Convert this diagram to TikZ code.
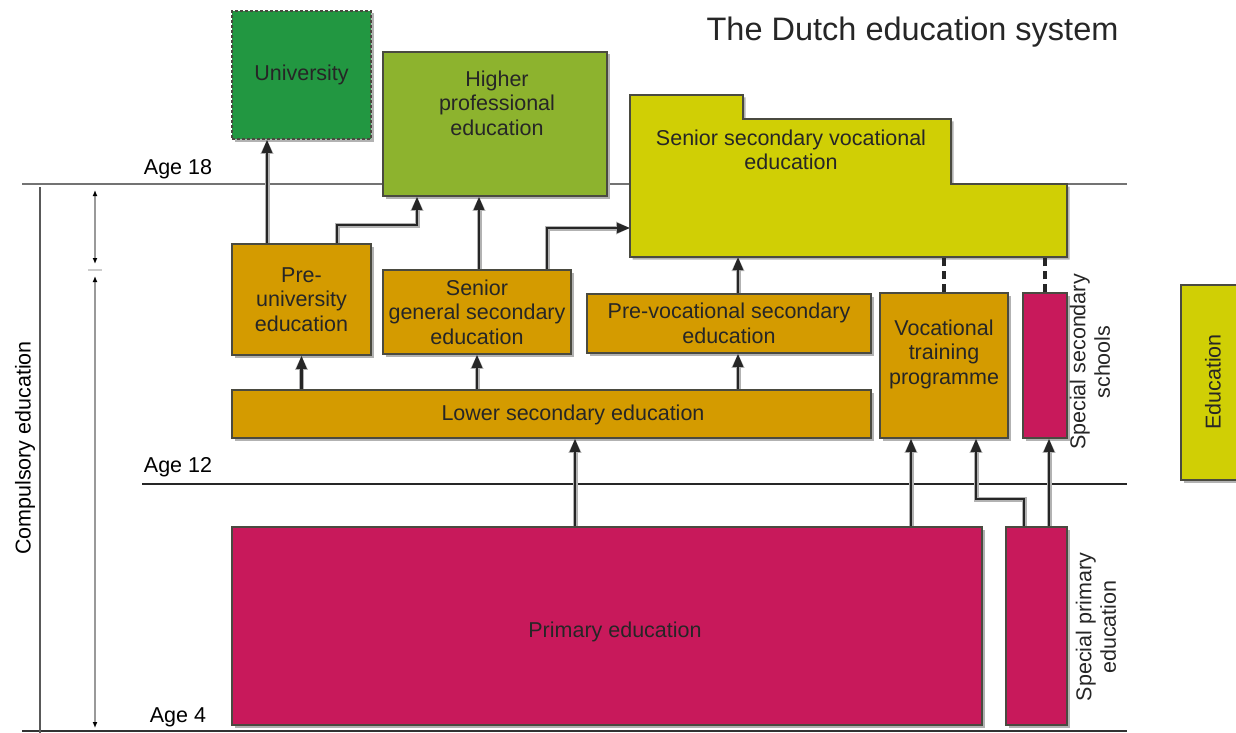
\documentclass[tikz,border=0pt]{standalone}
\usepackage{fontspec}
\setmainfont{Liberation Sans}
\usetikzlibrary{calc, arrows.meta, shadows}
\definecolor{unigreen}{HTML}{229741}
\definecolor{hbogreen}{HTML}{8DB32E}
\definecolor{mboyellow}{HTML}{D0CF05}
\definecolor{secorange}{HTML}{D49B00}
\definecolor{primmagenta}{HTML}{C8195B}
\definecolor{boxline}{HTML}{4A4A40}

\tikzset{
    edubox/.style={draw=boxline, line width=1.5, align=center, inner sep=0pt, text=black!85,
        drop shadow={shadow xshift=2.5pt, shadow yshift=-2.5pt, fill=black!30, opacity=1}},
    flow/.style={draw=black!85, line width=2.2, -{Triangle[length=13pt,width=10pt]},
        preaction={draw=black!30, line width=5, -{Triangle[length=14pt,width=12pt]}}},
    stage/.style={draw=black!85, line width=3.2, dash pattern=on 8pt off 5pt},
}

\begin{document}
\begin{tikzpicture}[x=1pt, y=-1pt, font=\fontsize{21.5}{24.5}\selectfont]
        \useasboundingbox (0,0) rectangle (1236,733);

        \draw[line width=2, draw=black!55] (22,184) -- (1127,184);
        \draw[line width=2, draw=black!85] (142,484) -- (1127,484);
        \draw[line width=2, draw=black!80] (22,731) -- (1127,731);
        \draw[line width=2, draw=black!65] (40,187) -- (40,733);

        \draw[line width=2, draw=black!40, {Latex[length=6pt,width=5pt,color=black]}-{Latex[length=6pt,width=5pt,color=black]}] (95,190) -- (95,264);
        \draw[line width=2, draw=black!40, {Latex[length=6pt,width=5pt,color=black]}-{Latex[length=6pt,width=5pt,color=black]}] (95,276) -- (95,728);
        \draw[line width=2, draw=black!20] (88,270) -- (102,270);

        \node[rotate=90] (compulsory) at (25,448) {Compulsory education};
        \node (age18) at (178,169) {Age 18};
        \node (age12) at (178,467) {Age 12};
        \node (age4) at (178,717) {Age 4};

        \node[anchor=east, font=\fontsize{32.5}{36}\selectfont, text=black!85] (title) at (1122,32) {The Dutch education system};

        \node[edubox, fill=unigreen, densely dashed, minimum width=139, minimum height=128] (uni) at (301.5,75) {University};
        \node[edubox, fill=hbogreen, minimum width=224, minimum height=144] (hbo) at (495,124) {};
        \node[align=center, text=black!85] (hbotext) at (497,103) {Higher\\professional\\education};

        \draw[edubox, fill=mboyellow] (630,95) -- (743,95) -- (743,119) -- (951,119) -- (951,184)
            -- (1067,184) -- (1067,257) -- (630,257) -- cycle;
        \node[align=center, text=black!85] (mbo) at (791,150) {Senior secondary vocational\\education};
        \coordinate (mboleft) at (630,228);
        \coordinate (mbobottom) at (630,257);

        \node[edubox, fill=secorange, minimum width=139, minimum height=111] (preuni) at (301.5,299.5) {Pre-\\university\\education};
        \node[edubox, fill=secorange, minimum width=188, minimum height=84] (sengen) at (477,312) {Senior\\general secondary\\education};
        \node[edubox, fill=secorange, minimum width=284, minimum height=59] (prevoc) at (729,323.5) {Pre-vocational secondary\\education};
        \node[edubox, fill=secorange, minimum width=639, minimum height=48] (lowsec) at (551.5,414) {};
        \node[text=black!85] (lowsectext) at (573,415) {Lower secondary education};
        \node[edubox, fill=secorange, minimum width=128, minimum height=145] (voctr) at (944,365.5) {};
        \node[align=center, text=black!85] (voctrtext) at (944,354) {Vocational\\training\\programme};
        \node[edubox, fill=primmagenta, minimum width=44, minimum height=145] (specsec) at (1045,365.5) {};
        \node[rotate=90, align=center, text=black!85] (specseclabel) at (1090,362) {Special secondary\\schools};

        \node[edubox, fill=primmagenta, minimum width=750, minimum height=198] (primary) at (607,626) {};
        \node[text=black!85] (primarytext) at (615,632) {Primary education};
        \node[edubox, fill=primmagenta, minimum width=61, minimum height=198] (specprim) at (1036.5,626) {};
        \node[rotate=90, align=center, text=black!85] (specprimlabel) at (1096,627) {Special primary\\education};

        \node[edubox, fill=mboyellow, minimum width=70, minimum height=195] (legend) at (1216,382.5) {};
        \node[rotate=90, text=black!85] (legendtext) at (1213,382) {Education};

        \draw[flow] ([xshift=-34.5]preuni.north) -- ([xshift=-34.5]uni.south);
        \draw[flow] ([xshift=35.5]preuni.north) -- ++(0,-18) -| ([xshift=-78]hbo.south);
        \draw[flow] ([xshift=2]sengen.north) -- ([xshift=2]sengen.north |- hbo.south);
        \draw[flow] ([xshift=70]sengen.north) |- (mboleft);
        \draw[flow] ([xshift=9]prevoc.north) -- ([xshift=9]prevoc.north |- mbobottom);

        \draw[flow] (lowsec.north -| preuni) -- (preuni.south);
        \draw[flow] (lowsec.north -| sengen) -- (sengen.south);
        \draw[flow] ([xshift=9]lowsec.north -| prevoc) -- ([xshift=9]prevoc.south);

        \draw[flow] ([xshift=-32]primary.north) -- ([xshift=-32]primary.north |- lowsec.south);
        \draw[flow] ([xshift=-33]voctr.south |- primary.north) -- ([xshift=-33]voctr.south);
        \draw[flow] ([xshift=-12.5]specprim.north) -- ++(0,-27) -| ([xshift=32]voctr.south);
        \draw[flow] ([xshift=4]specsec.south |- specprim.north) -- ([xshift=4]specsec.south);

        \draw[stage] (voctr.north) -- (voctr.north |- mbobottom);
        \draw[stage] (specsec.north) -- (specsec.north |- mbobottom);
    \end{tikzpicture}
\end{document}
